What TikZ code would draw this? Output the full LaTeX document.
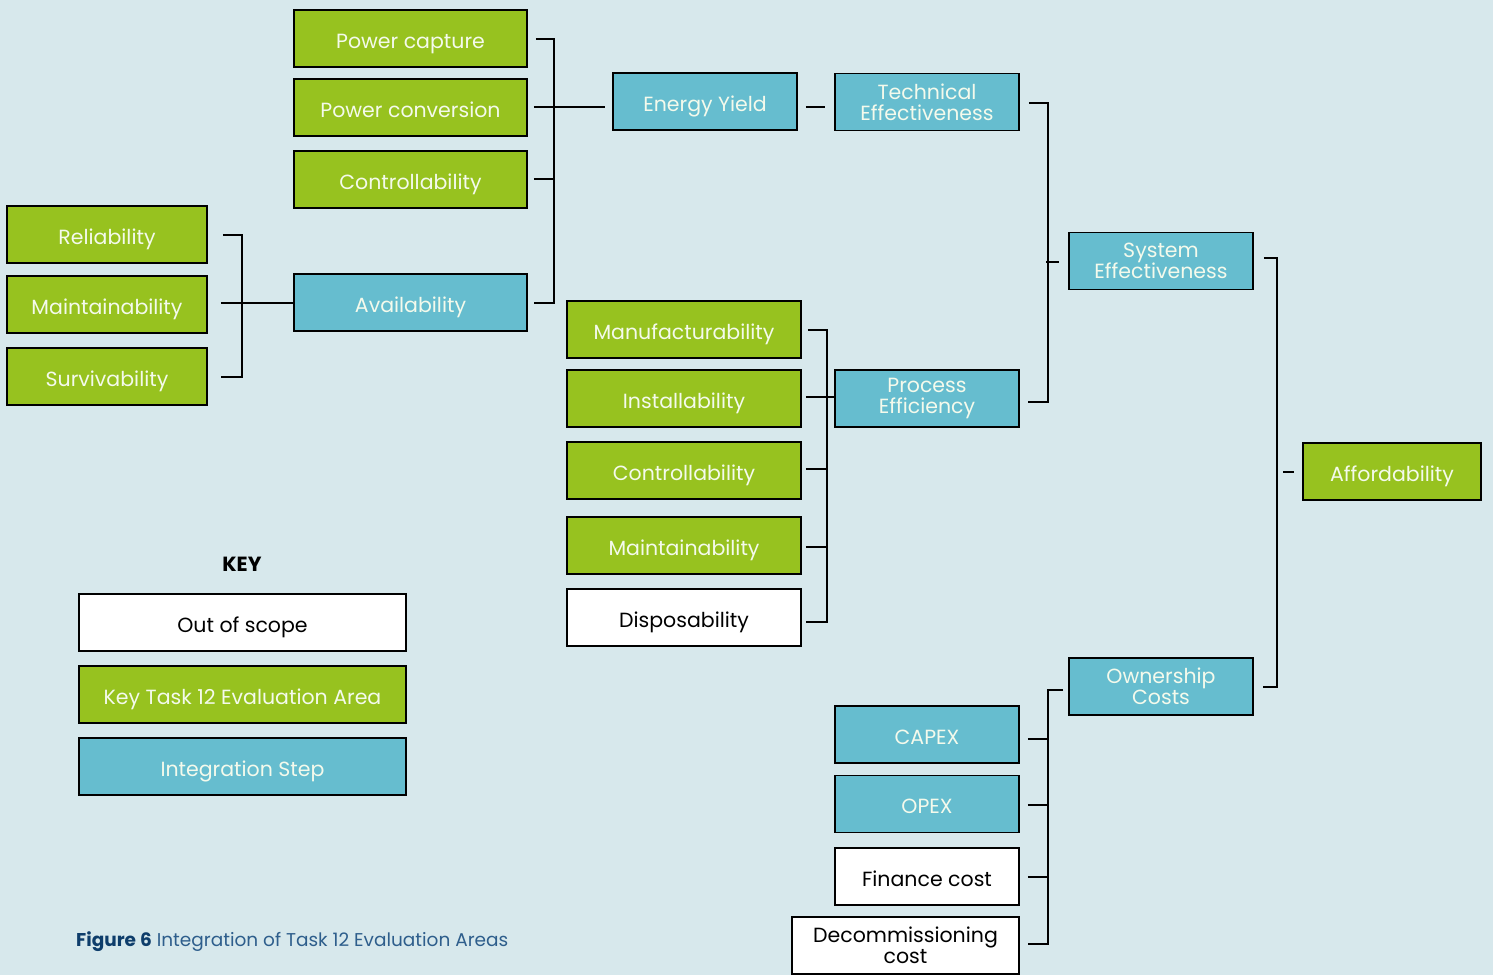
\documentclass[tikz,border=0pt]{standalone}
\usepackage{fontspec}
\setmainfont{Poppins}
\usetikzlibrary{calc}
\definecolor{bg}{HTML}{D7E8EC}
\definecolor{grn}{HTML}{97C21F}
\definecolor{blu}{HTML}{66BDCF}
\definecolor{capd}{HTML}{0E3D6B}
\definecolor{capl}{HTML}{2E5E8C}
\definecolor{txt}{HTML}{F4FAEC}
\tikzset{
  box/.style={draw=black, line width=1.8pt, inner sep=0pt, align=center, font=\fontsize{20.5}{21}\selectfont},
  one/.style={text height=19pt, text depth=0pt},
  gbox/.style={box, fill=grn, text=txt},
  bbox/.style={box, fill=blu, text=txt},
  wbox/.style={box, fill=white, text=black},
  conn/.style={line width=2pt, draw=black},
}
\begin{document}
\begin{tikzpicture}[x=1pt,y=-1pt]
\useasboundingbox (0,0) rectangle (1493,975);
\fill[bg] (0,0) rectangle (1493,975);
% column 1
\node[gbox, one, minimum width=200, minimum height=57] (rel) at (107,234.5) {Reliability};
\node[gbox, one, minimum width=200, minimum height=57] (mai1) at (107,304.5) {Maintainability};
\node[gbox, one, minimum width=200, minimum height=57] (sur) at (107,376.5) {Survivability};
% column 2
\node[gbox, one, minimum width=233, minimum height=57] (pcap) at (410.5,38.5) {Power capture};
\node[gbox, one, minimum width=233, minimum height=57] (pconv) at (410.5,107.5) {Power conversion};
\node[gbox, one, minimum width=233, minimum height=57] (ctr1) at (410.5,179.5) {Controllability};
\node[bbox, one, minimum width=233, minimum height=57] (avail) at (410.5,302.5) {Availability};
% column 3
\node[bbox, one, minimum width=184, minimum height=57] (ey) at (705,101.5) {Energy Yield};
\node[gbox, one, minimum width=234, minimum height=57] (manu) at (684,329.5) {Manufacturability};
\node[gbox, one, minimum width=234, minimum height=57] (inst) at (684,398.5) {Installability};
\node[gbox, one, minimum width=234, minimum height=57] (ctr2) at (684,470.5) {Controllability};
\node[gbox, one, minimum width=234, minimum height=57] (mai2) at (684,545.5) {Maintainability};
\node[wbox, one, minimum width=234, minimum height=57] (disp) at (684,617.5) {Disposability};
% column 4
\node[bbox, minimum width=184, minimum height=57] (te) at (927,102) {Technical\\Effectiveness};
\node[bbox, minimum width=184, minimum height=57] (pe) at (927,398.5) {Process\\Efficiency};
\node[bbox, one, minimum width=184, minimum height=57] (capex) at (927,734.5) {CAPEX};
\node[bbox, one, minimum width=184, minimum height=57] (opex) at (927,804) {OPEX};
\node[wbox, one, minimum width=184, minimum height=57] (fin) at (927,876.5) {Finance cost};
\node[wbox, minimum width=227, minimum height=57] (dec) at (905.5,945.5) {Decommissioning\\cost};
% column 5
\node[bbox, minimum width=184, minimum height=57] (se) at (1161,261) {System\\Effectiveness};
\node[bbox, minimum width=184, minimum height=57] (oc) at (1161,686.5) {Ownership\\Costs};
% column 6
\node[gbox, one, minimum width=178, minimum height=57] (aff) at (1392,471.5) {Affordability};
% key
\node[font=\bfseries\fontsize{20.5}{21}\selectfont] (key) at (242,564) {KEY};
\node[wbox, one, minimum width=327, minimum height=57] (k1) at (242.5,622.5) {Out of scope};
\node[gbox, one, minimum width=327, minimum height=57] (k2) at (242.5,694.5) {Key Task 12 Evaluation Area};
\node[bbox, one, minimum width=327, minimum height=57] (k3) at (242.5,766.5) {Integration Step};
% caption
\node[anchor=west, inner sep=0pt, font=\fontsize{18.5}{20}\selectfont, text=capl] (cap) at (76,942) {\textcolor{capd}{\bfseries Figure 6} Integration of Task 12 Evaluation Areas};
% connectors: availability group
\draw[conn] ($(rel.east)+(15,0)$) -| ($(sur.east)+(34,0)$) -- ($(sur.east)+(13,0)$);
\draw[conn] ($(mai1.east)+(13,-2)$) -- (avail.west |- {$(mai1.east)+(0,-2)$});
% energy yield group
\draw[conn] ($(pcap.east)+(8,0)$) -| ($(avail.east)+(26,0)$) -- ($(avail.east)+(6,0)$);
\draw[conn] ($(pconv.east)+(6,-1)$) -- ($(ey.west |- pconv.east)+(-7,-1)$);
\draw[conn] ($(ctr1.east)+(6,-1)$) -- ($(ctr1.east)+(26,-1)$);
\draw[conn] ($(ey.east)+(8,5)$) -- ($(te.west)+(-9,4.5)$);
% process efficiency group
\draw[conn] ($(manu.east)+(6,0.5)$) -| ($(disp.east)+(25,4.5)$) -- ($(disp.east)+(4,4.5)$);
\draw[conn] ($(inst.east)+(4,-1.5)$) -- (pe.west |- {$(inst.east)+(0,-1.5)$});
\draw[conn] ($(ctr2.east)+(4,-1.5)$) -- ($(ctr2.east)+(25,-1.5)$);
\draw[conn] ($(mai2.east)+(4,1)$) -- ($(mai2.east)+(25,1)$);
% system effectiveness group
\draw[conn] ($(te.east)+(9,1)$) -| ($(pe.east)+(28,3.5)$) -- ($(pe.east)+(8,3.5)$);
\draw[conn] ($(se.west)+(-22,1)$) -- ($(se.west)+(-9,1)$);
% affordability group
\draw[conn] ($(se.east)+(10,-3)$) -| ($(oc.east)+(23,0)$) -- ($(oc.east)+(9,0)$);
\draw[conn] ($(aff.west)+(-19,0)$) -- ($(aff.west)+(-8,0)$);
% ownership costs group
\draw[conn] ($(oc.west)+(-5,3.5)$) -| ($(dec.east)+(28,-1.5)$) -- ($(dec.east)+(8,-1.5)$);
\draw[conn] ($(capex.east)+(8,4)$) -- ($(capex.east)+(28,4)$);
\draw[conn] ($(opex.east)+(8,1)$) -- ($(opex.east)+(28,1)$);
\draw[conn] ($(fin.east)+(8,0.5)$) -- ($(fin.east)+(28,0.5)$);
\end{tikzpicture}
\end{document}
